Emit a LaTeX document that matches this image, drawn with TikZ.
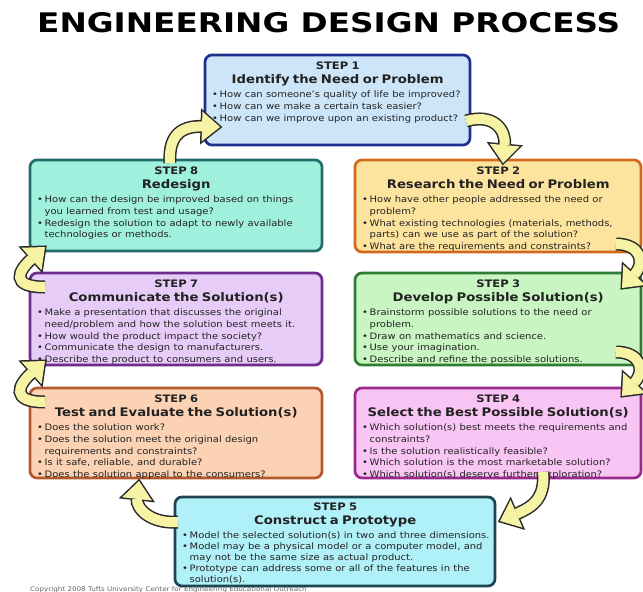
\documentclass[tikz,border=0pt]{standalone}
\usepackage{graphicx}
\usepackage{fontspec}
\setmainfont{DejaVu Sans}[FakeStretch=1.12]
\usetikzlibrary{calc}
\definecolor{f1}{HTML}{CDE5F9}\definecolor{b1}{HTML}{1E2F8F}
\definecolor{f2}{HTML}{FDE49E}\definecolor{b2}{HTML}{D2691E}
\definecolor{f3}{HTML}{C8F5C2}\definecolor{b3}{HTML}{2E7D32}
\definecolor{f4}{HTML}{F8C5F4}\definecolor{b4}{HTML}{9B2A8C}
\definecolor{f5}{HTML}{B0F0F8}\definecolor{b5}{HTML}{1F4552}
\definecolor{f6}{HTML}{FBD3B4}\definecolor{b6}{HTML}{B5582E}
\definecolor{f7}{HTML}{E6CCF6}\definecolor{b7}{HTML}{6E2C8C}
\definecolor{f8}{HTML}{A0F0DE}\definecolor{b8}{HTML}{236B66}
\definecolor{arrfill}{HTML}{F7F3A4}
\definecolor{arrline}{HTML}{2A2A2A}
\definecolor{txtc}{HTML}{222222}
\newcommand\stepbody{\fontsize{8.9}{11.7}\selectfont}
\newcommand\stephd[2]{{\centering\fontsize{10.3}{13}\selectfont\bfseries #1\par\fontsize{11.8}{13.5}\selectfont #2\par}\vspace{2.8pt}}
\newcommand\bitemA[1]{{\stepbody\noindent\makebox[7.5pt][l]{•}\mbox{#1}\par}}
\newcommand\bitemB[2]{{\stepbody\hangindent=7.5pt\hangafter=1\noindent\makebox[7.5pt][l]{•}\mbox{#1}\hfil\break\mbox{#2}\par}}
\newcommand\yarrow[4]{%
  \coordinate (hb) at ($(#4)!18pt!(#3)$);
  \coordinate (h1) at ($(hb)!15pt!90:(#4)$);
  \coordinate (h2) at ($(hb)!15pt!-90:(#4)$);
  \filldraw[arrline, line width=3pt] (#4) -- (h1) -- (h2) -- cycle;
  \draw[arrline, line width=13pt] (#1) .. controls (#2) and (#3) .. (hb);
  \fill[arrfill] (#4) -- (h1) -- (h2) -- cycle;
  \draw[arrfill, line width=10pt] (#1) .. controls (#2) and (#3) .. (hb);
}
\begin{document}
\begin{tikzpicture}[x=1pt,y=-1pt,
  box/.style={draw, rounded corners=7pt, line width=2.7pt, inner sep=0pt, outer sep=0pt, anchor=north west},
  txt/.style={anchor=north west, inner sep=0pt, align=left, text=txtc}]
\useasboundingbox (0,0) rectangle (643,592);
\fill[white] (0,0) rectangle (643,592);
\clip (0,0) rectangle (643,592);

\node[anchor=north west, inner sep=0pt] (title) at (37,12)
  {\resizebox{583pt}{20pt}{\fontsize{27}{30}\selectfont\bfseries ENGINEERING DESIGN PROCESS}};
\node[anchor=base west, inner sep=0pt, text=black!60, font=\fontsize{6.4}{8}\selectfont] (copy) at (30,591)
  {Copyright 2008 Tufts University Center for Engineering Educational Outreach};

\node[box, fill=f1, draw=b1, minimum width=265pt, minimum height=90pt] (s1) at (205,55) {};
\node[box, fill=f2, draw=b2, minimum width=286pt, minimum height=92pt] (s2) at (355,160) {};
\node[box, fill=f3, draw=b3, minimum width=286pt, minimum height=92pt] (s3) at (355,273) {};
\node[box, fill=f4, draw=b4, minimum width=286pt, minimum height=90pt] (s4) at (355,388) {};
\node[box, fill=f5, draw=b5, minimum width=320pt, minimum height=89pt] (s5) at (175,497) {};
\node[box, fill=f6, draw=b6, minimum width=292pt, minimum height=90pt] (s6) at (30,388) {};
\node[box, fill=f7, draw=b7, minimum width=292pt, minimum height=92pt] (s7) at (30,273) {};
\node[box, fill=f8, draw=b8, minimum width=292pt, minimum height=91pt] (s8) at (30,160) {};

\node[txt, text width=251pt] (t1) at ($(s1.north west)+(7,7)$) {\stephd{STEP 1}{Identify the Need or Problem}%
  \bitemA{How can someone's quality of life be improved?}%
  \bitemA{How can we make a certain task easier?}%
  \bitemA{How can we improve upon an existing product?}};
\node[txt, text width=272pt] (t2) at ($(s2.north west)+(7,7)$) {\stephd{STEP 2}{Research the Need or Problem}%
  \bitemB{How have other people addressed the need or}{problem?}%
  \bitemB{What existing technologies (materials, methods,}{parts) can we use as part of the solution?}%
  \bitemA{What are the requirements and constraints?}};
\node[txt, text width=272pt] (t3) at ($(s3.north west)+(7,7)$) {\stephd{STEP 3}{Develop Possible Solution(s)}%
  \bitemB{Brainstorm possible solutions to the need or}{problem.}%
  \bitemA{Draw on mathematics and science.}%
  \bitemA{Use your imagination.}%
  \bitemA{Describe and refine the possible solutions.}};
\node[txt, text width=272pt] (t4) at ($(s4.north west)+(7,7)$) {\stephd{STEP 4}{Select the Best Possible Solution(s)}%
  \bitemB{Which solution(s) best meets the requirements and}{constraints?}%
  \bitemA{Is the solution realistically feasible?}%
  \bitemA{Which solution is the most marketable solution?}%
  \bitemA{Which solution(s) deserve further exploration?}};
\node[txt, text width=306pt] (t5) at ($(s5.north west)+(7,6)$) {\renewcommand\stepbody{\fontsize{8.9}{11.1}\selectfont}%
  \stephd{STEP 5}{Construct a Prototype}%
  \bitemA{Model the selected solution(s) in two and three dimensions.}%
  \bitemB{Model may be a physical model or a computer model, and}{may not be the same size as actual product.}%
  \bitemB{Prototype can address some or all of the features in the}{solution(s).}};
\node[txt, text width=278pt] (t6) at ($(s6.north west)+(7,7)$) {\stephd{STEP 6}{Test and Evaluate the Solution(s)}%
  \bitemA{Does the solution work?}%
  \bitemB{Does the solution meet the original design}{requirements and constraints?}%
  \bitemA{Is it safe, reliable, and durable?}%
  \bitemA{Does the solution appeal to the consumers?}};
\node[txt, text width=278pt] (t7) at ($(s7.north west)+(7,7)$) {\stephd{STEP 7}{Communicate the Solution(s)}%
  \bitemB{Make a presentation that discusses the original}{need/problem and how the solution best meets it.}%
  \bitemA{How would the product impact the society?}%
  \bitemA{Communicate the design to manufacturers.}%
  \bitemA{Describe the product to consumers and users.}};
\node[txt, text width=278pt] (t8) at ($(s8.north west)+(7,7)$) {\stephd{STEP 8}{Redesign}%
  \bitemB{How can the design be improved based on things}{you learned from test and usage?}%
  \bitemB{Redesign the solution to adapt to newly available}{technologies or methods.}};

% arrows
\coordinate (a81s) at ($(s8.north west)+(140,3)$);
\coordinate (a81c) at ($(s8.north west)+(138,-28)$);
\coordinate (a81d) at ($(s1.north west)+(-20,71)$);
\coordinate (a81e) at ($(s1.north west)+(15,72)$);
\yarrow{a81s}{a81c}{a81d}{a81e}

\coordinate (a12s) at ($(s1.north east)+(-4,66)$);
\coordinate (a12c) at ($(s1.north east)+(24,58)$);
\coordinate (a12d) at ($(s2.north west)+(151,-30)$);
\coordinate (a12e) at ($(s2.north west)+(148,3)$);
\yarrow{a12s}{a12c}{a12d}{a12e}

\coordinate (a23s) at ($(s2.south east)+(-25,-8)$);
\coordinate (a23c) at ($(s2.south east)+(-1,-8)$);
\coordinate (a23d) at ($(s3.north east)+(5,-11)$);
\coordinate (a23e) at ($(s3.north east)+(-19,15)$);
\yarrow{a23s}{a23c}{a23d}{a23e}

\coordinate (a34s) at ($(s3.south east)+(-25,-13)$);
\coordinate (a34c) at ($(s3.south east)+(-1,-13)$);
\coordinate (a34d) at ($(s4.north east)+(5,-18)$);
\coordinate (a34e) at ($(s4.north east)+(-19,8)$);
\yarrow{a34s}{a34c}{a34d}{a34e}

\coordinate (a45s) at ($(s4.south west)+(188,-6)$);
\coordinate (a45c) at ($(s4.south west)+(191,22)$);
\coordinate (a45d) at ($(s5.north east)+(35,11)$);
\coordinate (a45e) at ($(s5.north east)+(5,24)$);
\yarrow{a45s}{a45c}{a45d}{a45e}

\coordinate (a56s) at ($(s5.north west)+(3,25)$);
\coordinate (a56c) at ($(s5.north west)+(-25,27)$);
\coordinate (a56d) at ($(s6.south west)+(106,30)$);
\coordinate (a56e) at ($(s6.south west)+(109,3)$);
\yarrow{a56s}{a56c}{a56d}{a56e}

\coordinate (a67s) at ($(s6.north west)+(15,14)$);
\coordinate (a67c) at ($(s6.north west)+(-20,14)$);
\coordinate (a67d) at ($(s7.south west)+(-12,20)$);
\coordinate (a67e) at ($(s7.south west)+(15,-4)$);
\yarrow{a67s}{a67c}{a67d}{a67e}

\coordinate (a78s) at ($(s7.north west)+(15,14)$);
\coordinate (a78c) at ($(s7.north west)+(-20,14)$);
\coordinate (a78d) at ($(s8.south west)+(-12,20)$);
\coordinate (a78e) at ($(s8.south west)+(15,-4)$);
\yarrow{a78s}{a78c}{a78d}{a78e}
\end{tikzpicture}
\end{document}
